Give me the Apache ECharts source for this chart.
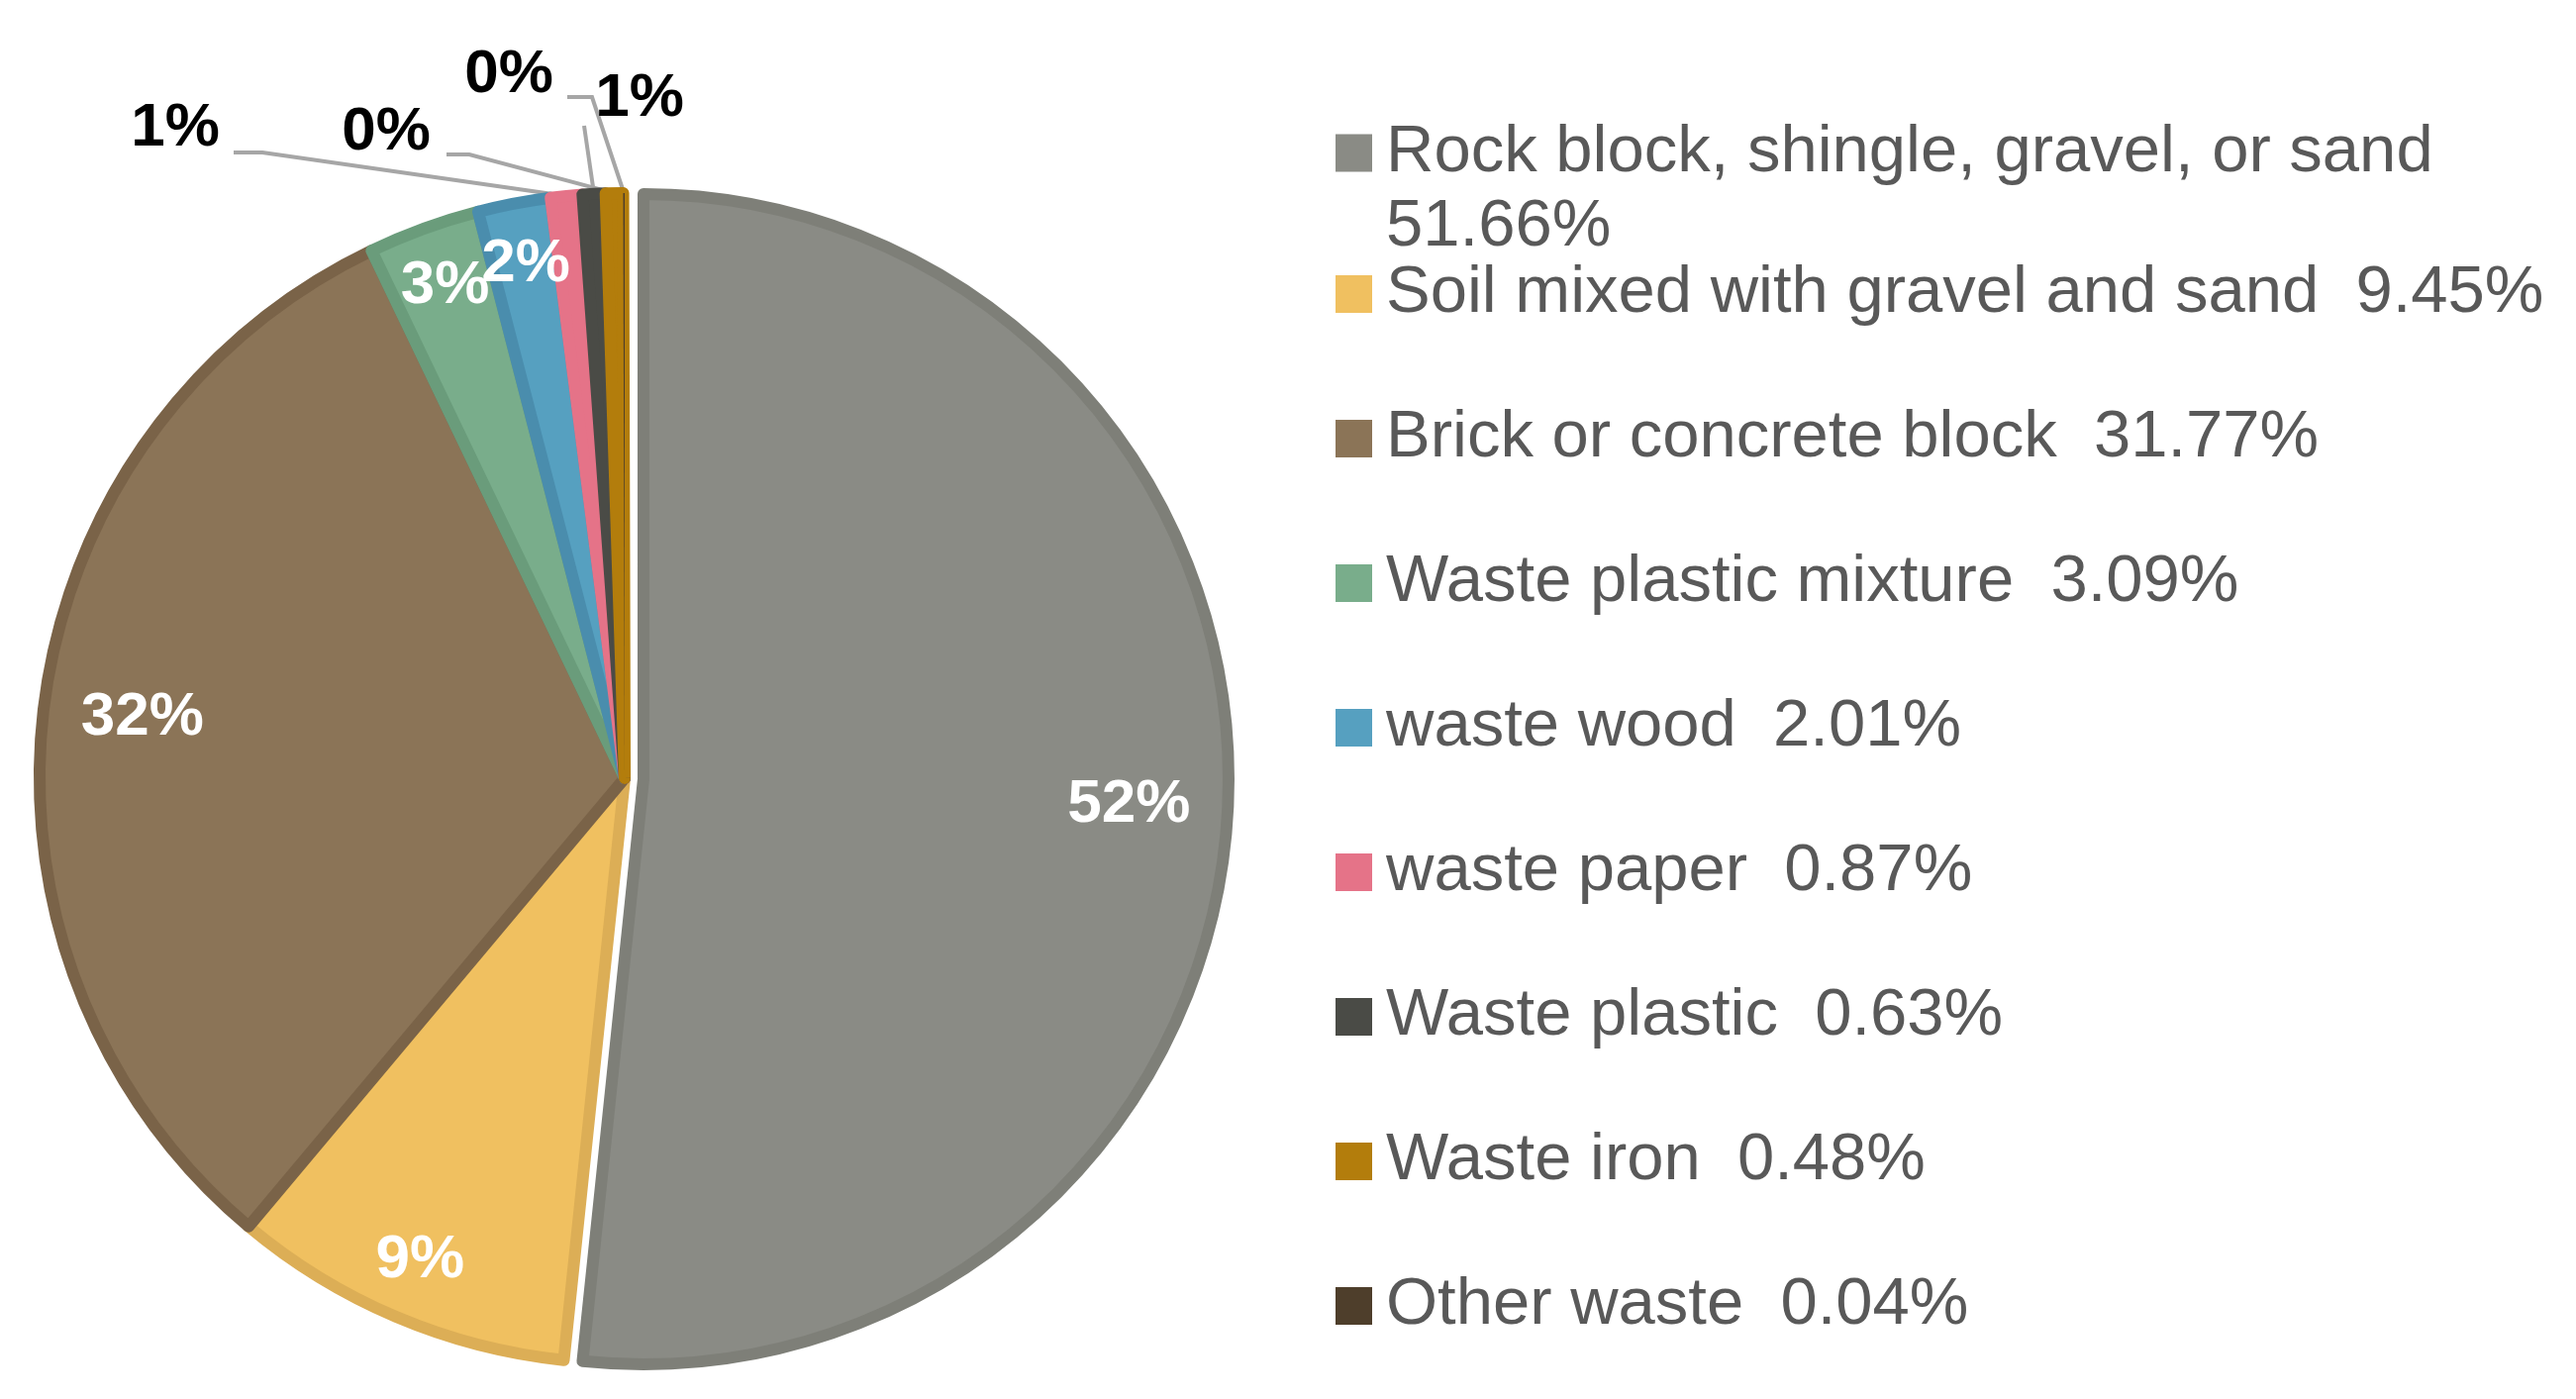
<!DOCTYPE html>
<html>
<head>
<meta charset="utf-8">
<script src="https://cdn.jsdelivr.net/npm/echarts@6/dist/echarts.min.js"></script>
<style>
html,body{margin:0;padding:0;background:#ffffff;}
#chart{width:2602px;height:1413px;}
</style>
</head>
<body>
<div id="chart"></div>
<script>
// ---- data ----
const categories = [
  'Rock block, shingle, gravel, or sand',
  'Soil mixed with gravel and sand',
  'Brick or concrete block',
  'Waste plastic mixture',
  'waste wood',
  'waste paper',
  'Waste plastic',
  'Waste iron',
  'Other waste'
];
const shares = [51.66, 9.45, 31.77, 3.09, 2.01, 0.87, 0.63, 0.48, 0.04];
const fillColors = ['#8a8b85', '#f0c060', '#8b7457', '#79ad8b', '#56a0c0', '#e57388', '#4a4b46', '#b37d0c', '#4e3e2b'];
const edgeColors = ['#7e7f78', '#dcae56', '#7a6348', '#6a9c7b', '#4a8dad', '#e57388', '#4a4b46', '#b37d0c', '#4e3e2b'];
// which slices carry their percentage inside (deep = near the middle ring, rim = near the edge)
const deepInside = [0, 2];
const rimInside = [1, 3, 4];

// ---- layout / style ----
const FONT = 'Liberation Sans';
const CENTER = [631, 786];
const EDGE = 12;
const R = 591;          // fill radius; the edge adds EDGE/2 outside
const OFFSET = 19;
const LABEL_SIZE = 62;
const LEGEND_SIZE = 67;

// placement of the small outside labels and the bends of their leader lines
const outsideSpots = {
  5: { x: 177, y: 130, bend: [265, 154], end: [236, 154] },
  6: { x: 646, y: 100, bend: [590, 127], end: [590, 127] },
  7: { x: 390, y: 134, bend: [474, 156], end: [451, 156] },
  8: { x: 514, y: 76,  bend: [598, 98],  end: [573, 98] }
};

function pctText(v) { return Math.round(v) + '%'; }
function legendText(name) {
  const i = categories.indexOf(name);
  return name + '  ' + shares[i].toFixed(2) + '%';
}

function labelCarrier(radius, shownList) {
  return {
    type: 'pie',
    center: CENTER,
    radius: radius,
    startAngle: 90,
    clockwise: true,
    silent: true,
    selectedMode: 'single',
    selectedOffset: OFFSET,
    avoidLabelOverlap: false,
    emphasis: { disabled: true },
    z: 3,
    itemStyle: { color: 'rgba(0,0,0,0)', borderWidth: 0 },
    labelLine: { show: false },
    labelLayout: { hideOverlap: false },
    label: {
      position: 'inside',
      formatter: function (p) { return pctText(p.value); },
      fontFamily: FONT,
      fontWeight: 'bold',
      fontSize: LABEL_SIZE,
      color: '#ffffff',
      overflow: 'none'
    },
    data: categories.map(function (name, i) {
      return {
        name: name,
        value: shares[i],
        selected: i === 0,
        label: { show: shownList.indexOf(i) >= 0 }
      };
    })
  };
}

const chart = echarts.init(document.getElementById('chart'), null, { renderer: 'canvas' });

const option = {
  backgroundColor: '#ffffff',
  animation: false,
  textStyle: { fontFamily: FONT },
  legend: [
    {
      orient: 'vertical',
      left: 1349,
      top: 42,
      padding: 0,
      icon: 'rect',
      itemWidth: 37,
      itemHeight: 38,
      selectedMode: false,
      itemStyle: { borderWidth: 0 },
      data: [categories[0]],
      formatter: function (name) {
        const i = categories.indexOf(name);
        return '{t|' + name + '}\n{t|' + shares[i].toFixed(2) + '%}';
      },
      textStyle: {
        padding: [75, 0, 0, 9],
        fontSize: LEGEND_SIZE,
        lineHeight: 75,
        color: '#595959',
        rich: { t: { fontFamily: FONT, fontSize: LEGEND_SIZE, lineHeight: 75, color: '#595959' } }
      }
    },
    {
      orient: 'vertical',
      left: 1349,
      top: 260,
      padding: 0,
      icon: 'rect',
      itemWidth: 37,
      itemHeight: 38,
      itemGap: 72,
      selectedMode: false,
      itemStyle: { borderWidth: 0 },
      data: categories.slice(1),
      formatter: legendText,
      textStyle: {
        fontFamily: FONT,
        fontSize: LEGEND_SIZE,
        lineHeight: 74,
        color: '#595959',
        padding: [0, 0, 0, 9]
      }
    }
  ],
  series: [
    {
      type: 'pie',
      center: CENTER,
      radius: [0, R],
      startAngle: 90,
      clockwise: true,
      selectedMode: 'single',
      selectedOffset: OFFSET,
      avoidLabelOverlap: false,
      emphasis: { disabled: true },
      z: 2,
      data: categories.map(function (name, i) {
        const outside = outsideSpots[i] !== undefined;
        return {
          name: name,
          value: shares[i],
          selected: i === 0,
          itemStyle: {
            color: fillColors[i],
            borderColor: edgeColors[i],
            borderWidth: i === categories.length - 1 ? 0 : EDGE
          },
          label: { show: outside },
          labelLine: { show: outside }
        };
      }),
      label: {
        position: 'outside',
        formatter: function (p) { return pctText(p.value); },
        fontFamily: FONT,
        fontWeight: 'bold',
        fontSize: LABEL_SIZE,
        color: '#000000'
      },
      labelLine: {
        length: 20,
        length2: 20,
        smooth: false,
        lineStyle: { color: '#a6a6a6', width: 4 }
      },
      labelLayout: function (p) {
        const s = outsideSpots[p.dataIndex];
        if (!s) return {};
        const out = { x: s.x, y: s.y, align: 'center', verticalAlign: 'middle' };
        if (p.labelLinePoints && p.labelLinePoints.length) {
          out.labelLinePoints = [p.labelLinePoints[0].slice(), s.bend, s.end];
        }
        return out;
      }
    },
    labelCarrier([400, 576], deepInside),
    labelCarrier([452, 600], rimInside)
  ]
};

chart.setOption(option);
</script>
</body>
</html>
